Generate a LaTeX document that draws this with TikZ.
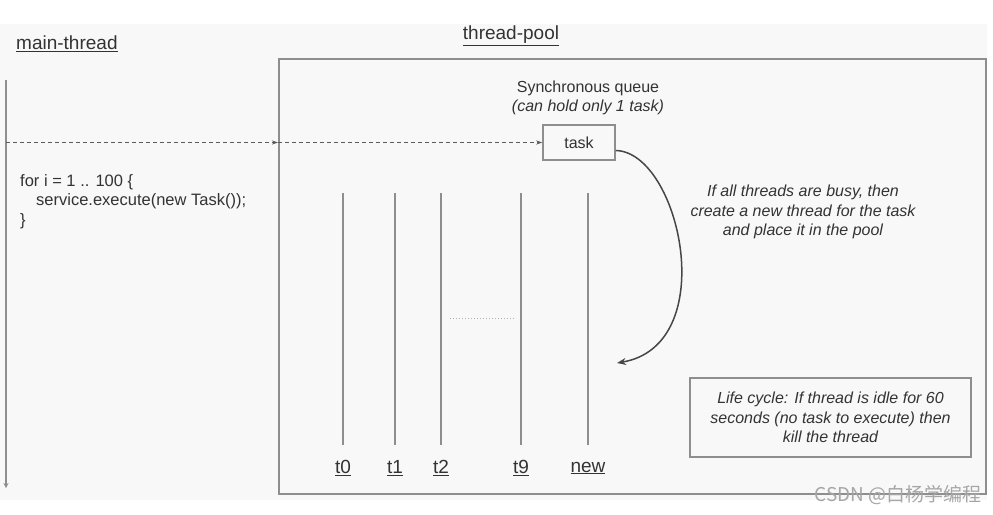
\documentclass[tikz,border=0pt]{standalone}
\usepackage{fontspec}
\setmainfont{Liberation Sans}
\newfontfamily\cjk{Noto Sans CJK SC}
\usetikzlibrary{arrows.meta,positioning}
\definecolor{bggray}{HTML}{F8F8F8}
\definecolor{linegray}{HTML}{8E8E8E}
\definecolor{txtgray}{HTML}{333333}

\begin{document}
\begin{tikzpicture}[x=1pt,y=-1pt,
  txt/.style={text=txtgray,font=\fontsize{16}{19.5}\selectfont,inner sep=0pt},
  itxt/.style={text=txtgray,font=\fontsize{16}{19.5}\selectfont\itshape,inner sep=0pt,align=center},
  head/.style={text=txtgray,font=\fontsize{19}{22}\selectfont,inner sep=0pt},
  thr/.style={linegray,line width=1.3pt},
  box/.style={draw=linegray,line width=1.5pt},
  dsh/.style={txtgray!80,line width=0.9pt,dash pattern=on 4pt off 3pt,-{Stealth[length=6pt,width=4pt]}}]
 \useasboundingbox (0,0) rectangle (993,514);
 \fill[bggray] (0,24) rectangle (987,500);
 % titles
 \node[head,anchor=west] (mainlbl) at (16,44) {\underline{main-thread}};
 \node[head] (poollbl) at (511,36) {\underline{thread-pool}};
 % pool and queue
 \node[box,minimum width=707pt,minimum height=435pt,anchor=north west] (pool) at (278,58) {};
 \node[box,txt,minimum width=72pt,minimum height=35pt] (task) at (579,142.5) {task};
 \node[itxt,font=\fontsize{16}{19.5}\selectfont,above=9pt of task,xshift=9pt] (queue) {Synchronous queue\\\itshape(can hold only 1 task)};
 % main thread
 \coordinate (mtop) at (6,80);
 \coordinate (mbot) at (6,488);
 \draw[thr,line width=1.6pt,-{Stealth[length=5pt,width=5pt]}] (mtop) -- (mbot);
 \draw[dsh] (mtop |- task.west) -- (pool.west |- task.west);
 \draw[dsh] (pool.west |- task.west) -- (task.west);
 \node[txt,font=\fontsize{16.5}{19.5}\selectfont,anchor=north west,align=left] (code) at (20,174) {for i = 1 .. 100 \{\\\hspace*{16pt}service.execute(new Task());\\\}};
 % worker threads
 \coordinate (ttop) at (0,193);
 \coordinate (tbot) at (0,445);
 \node[head] (t0) at (343,468) {\underline{t0}};
 \node[head] (t1) at (395,468) {\underline{t1}};
 \node[head] (t2) at (441,468) {\underline{t2}};
 \node[head] (t9) at (521,468) {\underline{t9}};
 \node[head] (tnew) at (588,468) {\underline{new}};
 \draw[thr] (t0 |- ttop) -- (t0 |- tbot);
 \draw[thr] (t1 |- ttop) -- (t1 |- tbot);
 \draw[thr] (t2 |- ttop) -- (t2 |- tbot);
 \draw[thr] (t9 |- ttop) -- (t9 |- tbot);
 \draw[thr] (tnew |- ttop) -- (tnew |- tbot);
 \draw[linegray!70,dotted,line width=1pt] (450,318) -- (515,318);
 % new thread
 \coordinate (newin) at (617,363);
 \draw[txtgray!90,line width=1.5pt,-{Stealth[length=9pt,width=7pt]}] ([yshift=-8pt]task.east) .. controls (680,152) and (722,345) .. (newin);
 \node[itxt] (busy) at (803,212) {If all threads are busy, then\\create a new thread for the task\\and place it in the pool};
 % life cycle
 \node[box,itxt,minimum width=281pt,minimum height=79pt] (life) at (830.5,417.5) {Life cycle: If thread is idle for 60\\seconds (no task to execute) then\\kill the thread};
 \node[anchor=east,text=gray!70,font=\cjk\fontsize{19}{22}\selectfont,inner sep=0pt] (mark) at (982,495) {CSDN @白杨学编程};
\end{tikzpicture}
\end{document}
